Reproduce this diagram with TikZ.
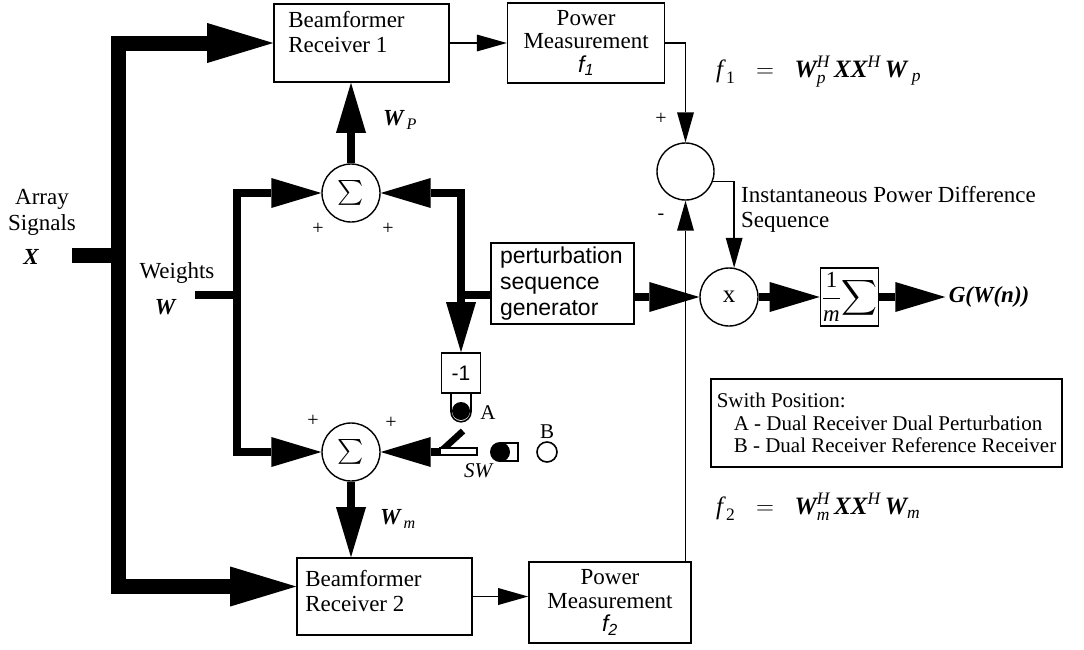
\documentclass[tikz,border=0pt]{standalone}
\usepackage{amsmath}
\usepackage{fontspec}
\setmainfont{Liberation Serif}
\setsansfont{Liberation Sans}
\usetikzlibrary{arrows.meta,positioning}

\newcommand{\bvec}[1]{\text{\bfseries\itshape #1}}
\newcommand{\itx}[1]{\text{\itshape #1}}

\begin{document}
\begin{tikzpicture}[x=1pt,y=-1pt,
  font=\rmfamily\fontsize{23}{25}\selectfont,
  block/.style={draw,line width=1.6pt,inner sep=0pt,align=center},
  box text/.style={inner sep=0pt,align=left,anchor=north west,font=\rmfamily\fontsize{23}{25}\selectfont},
  sum node/.style={circle,draw,line width=1.4pt,minimum size=58pt,inner sep=0pt},
  bus/.style={line width=15pt},
  bus arrow/.style={bus,-{Triangle[length=66pt,width=40pt,line width=0pt]}},
  weight line/.style={line width=8.5pt},
  weight arrow/.style={weight line,-{Triangle[length=50pt,width=30pt,line width=0pt]}},
  signal/.style={line width=1.6pt},
  signal arrow/.style={signal,-{Triangle[length=30pt,width=17pt,line width=0pt]}},
  sign/.style={inner sep=0pt,font=\fontsize{20}{20}\selectfont},
  equation/.style={anchor=west,inner sep=0pt,font=\fontsize{25}{25}\selectfont}]
  \useasboundingbox (0,0) rectangle (1084,649);

  \node[block,minimum width=175pt,minimum height=78pt](br1) at (361.5,43){};
  \node[box text](br1 text) at ([xshift=15pt,yshift=-8pt]br1.north west){Beamformer\\Receiver 1};
  \node[block,minimum width=157pt,minimum height=80pt,right=57pt of br1,
    font=\fontsize{23}{23.5}\selectfont](pm1){Power\\Measurement\\{\sffamily\itshape f}$_{\text{\sffamily\itshape 1}}$};
  \node[block,minimum width=175pt,minimum height=77pt](br2) at (384.5,596.5){};
  \node[box text](br2 text) at ([xshift=9pt,yshift=-13pt]br2.north west){Beamformer\\Receiver 2};
  \node[block,minimum width=162pt,minimum height=81pt,
    font=\fontsize{23}{23.5}\selectfont](pm2) at (610,602.5){Power\\Measurement\\{\sffamily\itshape f}$_{\text{\sffamily\itshape 2}}$};
  \node[sum node,font=\fontsize{25}{25}\selectfont](s1) at (351,193){$\textstyle\sum$};
  \node[sum node,font=\fontsize{25}{25}\selectfont](s2) at (351,452){$\textstyle\sum$};
  \node[block,minimum width=143pt,minimum height=81pt,text width=125pt,align=left,
    font=\sffamily\fontsize{23}{26}\selectfont](gen) at (562.5,283.5){perturbation\\sequence\\generator};
  \node[block,minimum width=39pt,minimum height=40pt,font=\sffamily\fontsize{21}{21}\selectfont](neg) at (461,373){-1};
  \node[sum node,minimum size=57pt](diff) at (685.5,171.5){};
  \node[sum node,font=\fontsize{25}{25}\selectfont](mul) at (729,297){x};
  \node[block,minimum size=58pt,right=61pt of mul](avg){$\displaystyle\frac{\text{1}}{\text{\itshape m}}\!\sum$};
  \node[right=66pt of avg,font=\bfseries\itshape\fontsize{23}{25}\selectfont](gout){G(W(n))};
  \node[block,align=left,inner xsep=6pt,minimum width=351pt,minimum height=88pt,
    font=\fontsize{21}{22.5}\selectfont](legend) at (886.5,423){Swith Position:\\
    \hspace*{17pt}A - Dual Receiver Dual Perturbation\\
    \hspace*{17pt}B - Dual Receiver Reference Receiver};

  \node[align=center,inner sep=0pt,font=\fontsize{23}{26}\selectfont](array) at (42,212){Array\\Signals};
  \node[inner sep=0pt,font=\bfseries\itshape\fontsize{23}{25}\selectfont](xsig) at (31,257){X};
  \node[inner sep=0pt](weights) at (177,273){Weights};
  \node[inner sep=0pt,font=\bfseries\itshape\fontsize{23}{25}\selectfont](wsig) at (165,307){W};
  \node[anchor=west,inner sep=0pt](wp) at (383,120){$\bvec{W}_{\,\itx{P}}$};
  \node[anchor=west,inner sep=0pt](wm) at (380,519){$\bvec{W}_{\,\itx{m}}$};
  \node[sign](p1) at (318,229){+};
  \node[sign](p2) at (388,229){+};
  \node[sign](p3) at (313,421){+};
  \node[sign](p4) at (391,423){+};
  \node[sign](p5) at (661,119){+};
  \node[sign](p6) at (661,217){-};
  \node[anchor=west,align=left,inner sep=0pt](inst) at (741,209.5){Instantaneous Power Difference\\Sequence};
  \node[equation](f1eq) at (716,72){$\itx{f}_{\,\text{1}}\;\;=\;\;\bvec{W}^{\itx{H}}_{\itx{p}}\,\bvec{X}\bvec{X}^{\itx{H}}\,\bvec{W}_{\;\itx{p}}$};
  \node[equation](f2eq) at (716,507){$\itx{f}_{\,\text{2}}\;\;=\;\;\bvec{W}^{\itx{H}}_{\itx{m}}\,\bvec{X}\bvec{X}^{\itx{H}}\,\bvec{W}_{\itx{m}}$};

  \coordinate(xin) at (72,255);
  \coordinate(xmid) at (118,255);
  \coordinate(win) at (195,295);
  \coordinate(wmid) at (237,295);
  \coordinate(gj) at (461,295);
  \coordinate(contA) at (461,411);
  \coordinate(pivot) at (440,452);
  \coordinate(contP) at (500,452);
  \coordinate(contB) at (547,452);

  \draw[bus] (xin) -- (xmid);
  \draw[bus arrow] (xmid) |- (br1.west);
  \draw[bus arrow] (xmid) |- ([yshift=10pt]br2.west);
  \draw[weight line] (win) -- (wmid);
  \draw[weight arrow] (wmid) |- (s1.west);
  \draw[weight arrow] (wmid) |- (s2.west);
  \draw[weight arrow] (s1.north) -- (s1.north |- br1.south);
  \draw[weight arrow] (s2.south) -- (s2.south |- br2.north);
  \draw[weight line] (gen.west |- gj) -- (gj);
  \draw[weight arrow] (gj) |- (s1.east);
  \draw[weight arrow] (gj) -- (neg.north);
  \draw[weight arrow] (gen.east |- mul) -- (mul.west);
  \draw[weight arrow] (mul) -- (avg);
  \draw[weight arrow] (avg) -- (gout);
  \draw[signal arrow] (br1.east) -- (br1.east -| pm1.west);
  \draw[signal arrow] (br2.east) -- (br2.east -| pm2.west);
  \draw[signal arrow] (pm1.east) -| (diff.north);
  \draw[signal arrow] (pm2.north -| diff) -- (diff.south);
  \draw[signal arrow] (diff.-20) -| (mul.80);

  \draw[signal] ([xshift=-10pt]neg.south) -- ++(0,18) arc[start angle=180,end angle=360,radius=10pt] -- ([xshift=10pt]neg.south);
  \fill (contA) circle[radius=9pt];
  \draw[line width=6.5pt] (pivot) -- ++(23,-21);
  \draw[signal,fill=white] (pivot) ++(0,-4) rectangle ++(37,7);
  \draw[weight arrow] (pivot) -- (s2.east);
  \draw[signal,fill=white] (contP) ++(0,-9) rectangle ++(18,18);
  \fill (contP) circle[radius=10pt];
  \draw[signal] (contB) circle[radius=10pt];
  \node[inner sep=0pt,font=\fontsize{21}{21}\selectfont](la) at (488,413){A};
  \node[inner sep=0pt,font=\fontsize{21}{21}\selectfont](lb) at (547,432){B};
  \node[inner sep=0pt,font=\itshape\fontsize{21}{21}\selectfont](lsw) at (478,471){SW};
\end{tikzpicture}
\end{document}
